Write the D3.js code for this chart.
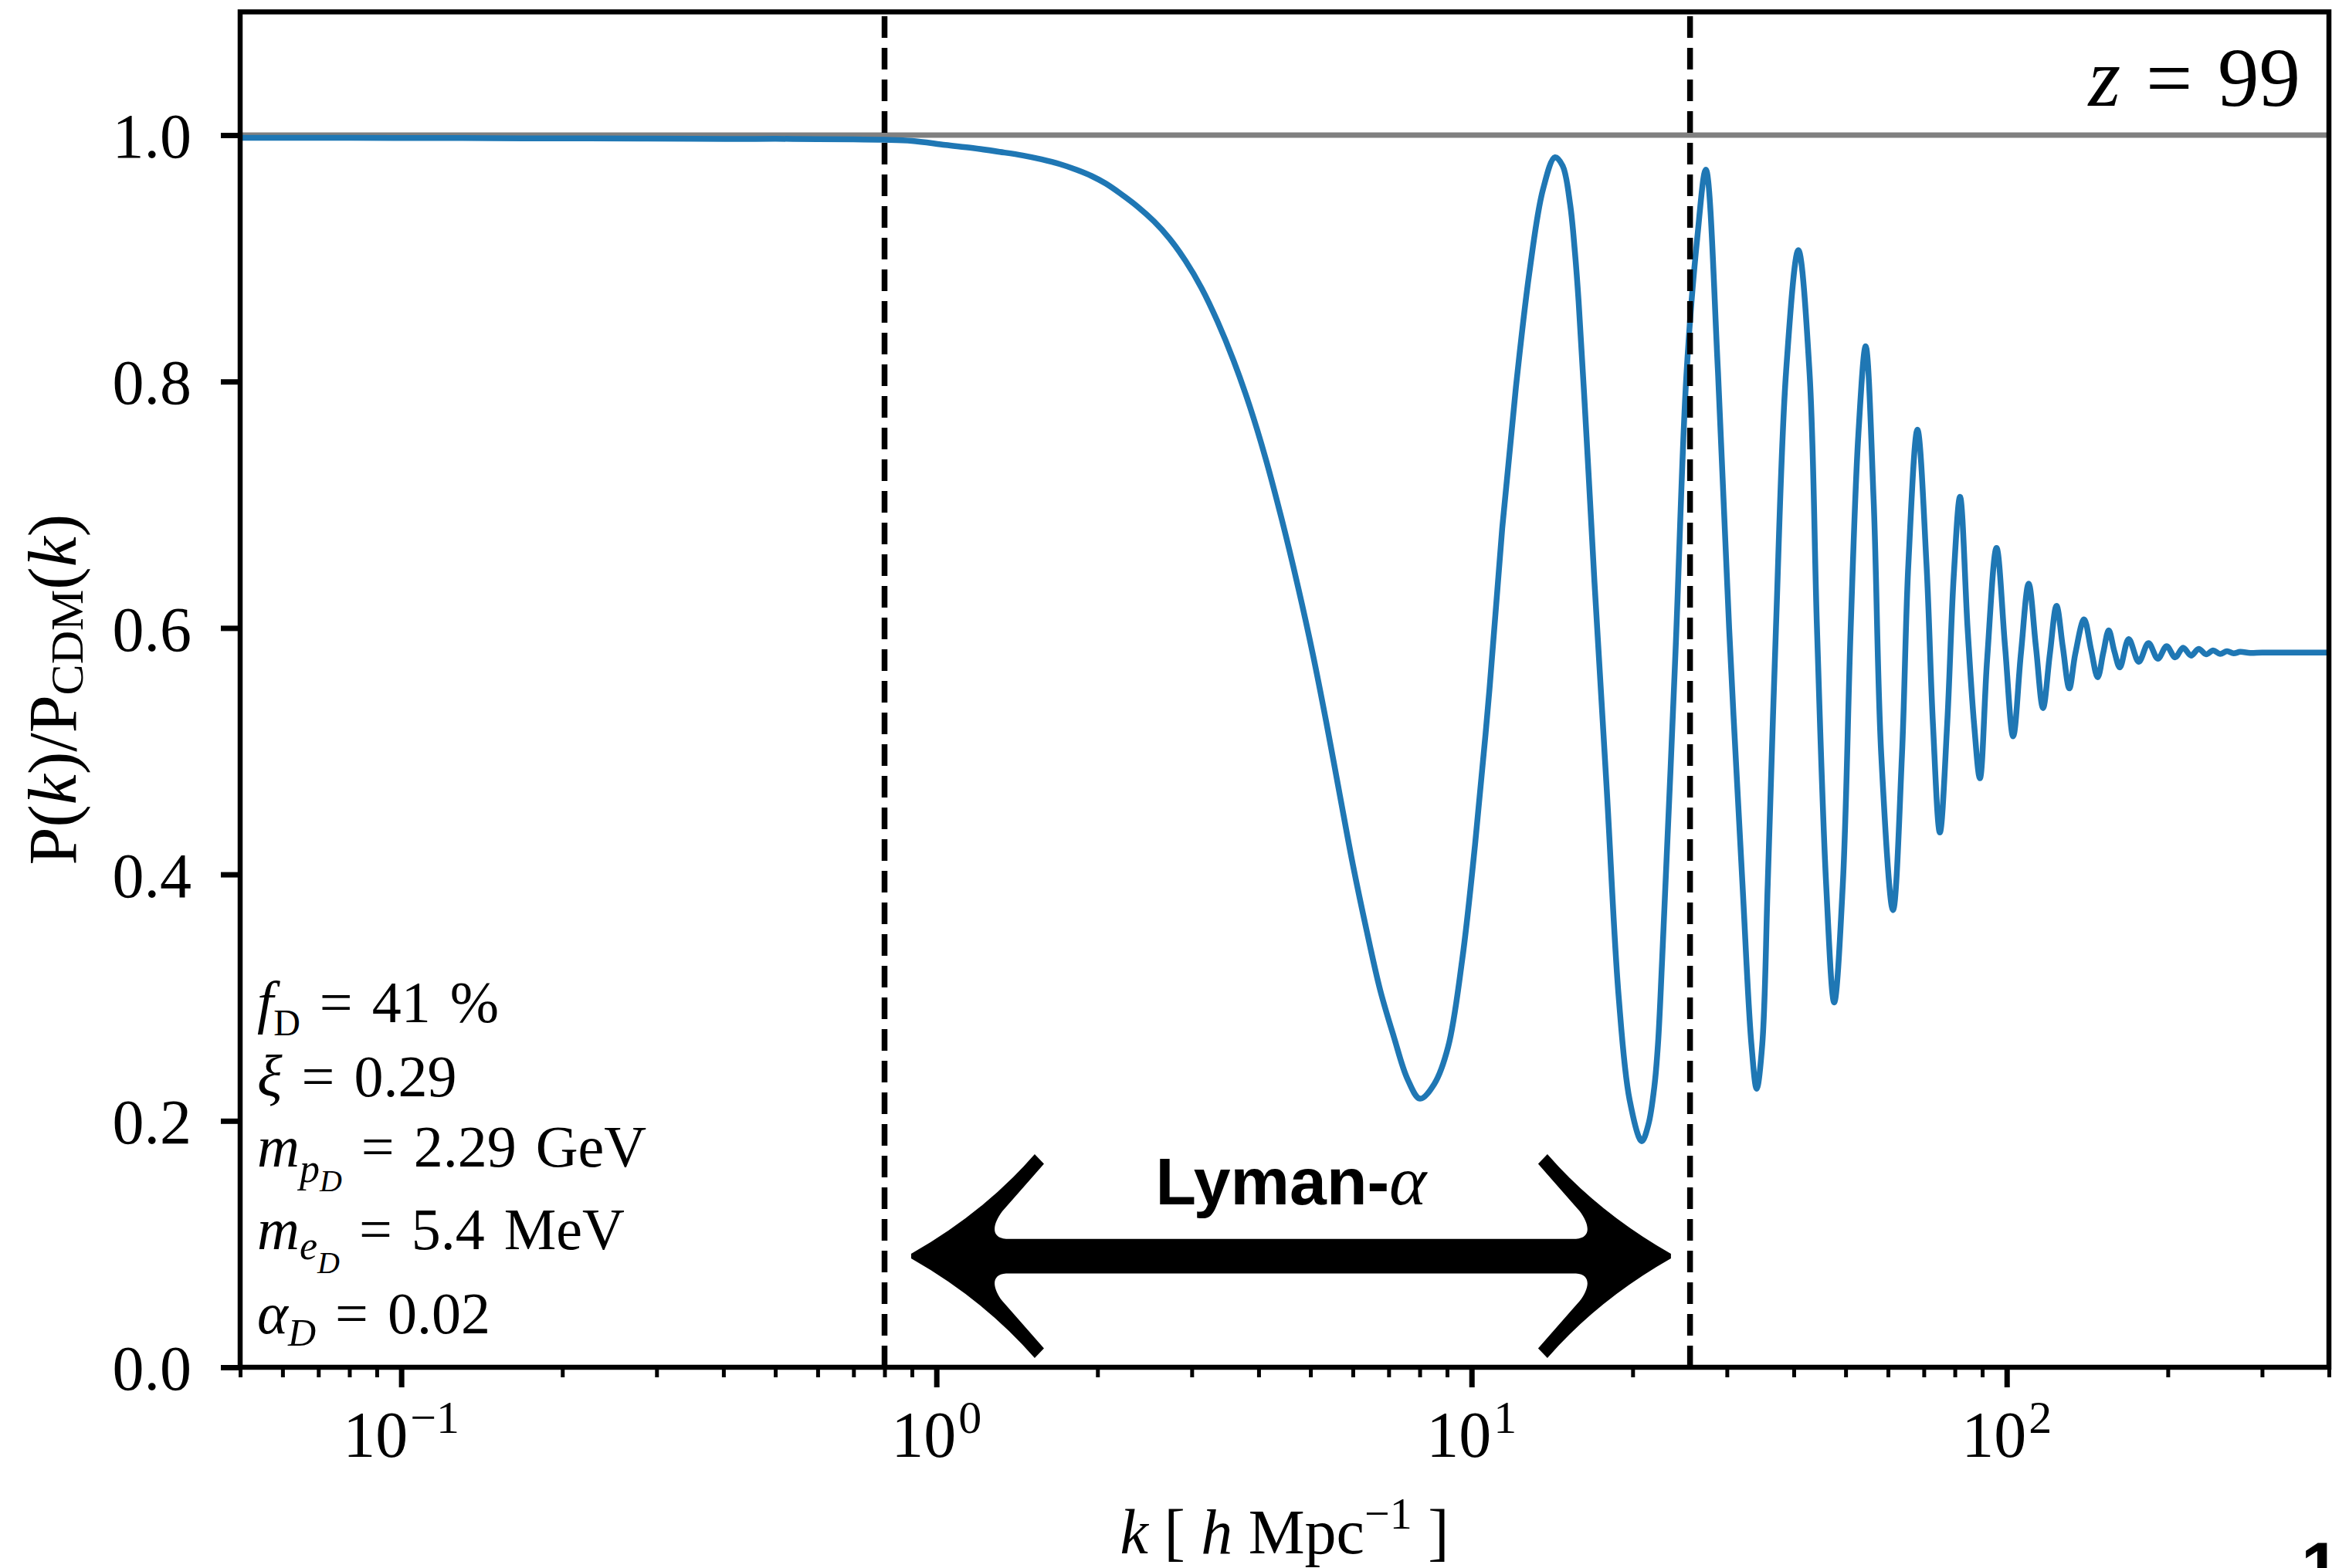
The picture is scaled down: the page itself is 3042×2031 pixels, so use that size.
<!DOCTYPE html>
<html>
<head>
<meta charset="utf-8">
<script src="https://cdn.jsdelivr.net/npm/d3@7"></script>
<style>
  html, body { margin: 0; padding: 0; background: #ffffff; }
  svg { display: block; }
</style>
</head>
<body>
<svg id="chart" width="3042" height="2031"></svg>
<script>
// Wavenumber k [h/Mpc] and transfer ratio P(k)/P_CDM(k) at z = 99
const kValues = [
  0.05, 0.07, 0.1, 0.13, 0.17, 0.22, 0.28, 0.35, 0.42, 0.5,
  0.6, 0.7, 0.8, 0.9, 1.04, 1.17, 1.314, 1.45, 1.572, 1.7,
  1.829, 1.95, 2.07, 2.2, 2.376, 2.55, 2.727, 2.92, 3.128, 3.35,
  3.592, 3.85, 4.12, 4.42, 4.73, 5.05, 5.35, 5.67, 6.0, 6.37,
  6.75, 7.16, 7.59, 8.01, 8.52, 9.04, 9.6, 10.15, 10.8, 11.41,
  12.1, 12.82, 13.59, 14.32, 14.8, 15.28, 15.6, 15.85, 16.4, 16.97,
  17.89, 18.83, 19.74, 20.8, 21.4, 21.96, 22.3, 22.7, 24.05, 25.2,
  26.4, 27.4, 28.87, 30.29, 32.08, 33.34, 34.1, 34.93, 35.76, 37.05,
  38.7, 40.8, 42.8, 44.2, 45.98, 47.6, 49.4, 51.1, 52.8, 54.5,
  56.4, 58.3, 61.3, 63.7, 65.5, 68.1, 70.8, 72.8, 75.0, 77.4,
  79.6, 81.8, 84.5, 86.9, 89.1, 91.9, 95.7, 99.3, 102.8, 106.3,
  109.9, 113.4, 116.9, 120.4, 123.9, 127.3, 130.9, 134.3, 139.5, 143.8,
  147.9, 151.5, 155.1, 158.9, 162.7, 169, 176.5, 184, 191.6, 199,
  206.4, 213.6, 221, 228.4, 235.9, 243, 250.5, 258, 265.5, 273,
  285, 300, 330, 400
];
const ratioValues = [
  0.9978, 0.9978, 0.9977, 0.9976, 0.9973, 0.9974, 0.9972, 0.9970, 0.9968, 0.9970,
  0.9967, 0.9966, 0.9962, 0.9953, 0.9920, 0.9895, 0.9864, 0.9835, 0.9803, 0.9765,
  0.9718, 0.9668, 0.9608, 0.9530, 0.9420, 0.9300, 0.9160, 0.8980, 0.8760, 0.8490,
  0.8170, 0.7800, 0.7380, 0.6880, 0.6350, 0.5790, 0.5240, 0.4650, 0.4080, 0.3540,
  0.3060, 0.2680, 0.2340, 0.2180, 0.2300, 0.2600, 0.3300, 0.4240, 0.5500, 0.6810,
  0.7950, 0.8880, 0.9555, 0.9820, 0.9750, 0.9440, 0.9050, 0.8650, 0.7550, 0.6370,
  0.4690, 0.3010, 0.2170, 0.1835, 0.1970, 0.2280, 0.2620, 0.3300, 0.5810, 0.8045,
  0.9160, 0.9720, 0.808, 0.600, 0.392, 0.262, 0.226, 0.262, 0.392, 0.600,
  0.808, 0.9066, 0.808, 0.600, 0.392, 0.296, 0.392, 0.600, 0.756, 0.8286,
  0.704, 0.496, 0.371, 0.496, 0.652, 0.761, 0.652, 0.522, 0.434, 0.522,
  0.6416, 0.7065, 0.600, 0.522, 0.478, 0.574, 0.665, 0.5845, 0.512, 0.5793,
  0.636, 0.5845, 0.535, 0.579, 0.618, 0.5845, 0.551, 0.579, 0.607, 0.582,
  0.560, 0.580, 0.598, 0.581, 0.568, 0.591, 0.5726, 0.5877, 0.5751, 0.5852,
  0.5761, 0.584, 0.5776, 0.583, 0.5786, 0.5818, 0.5790, 0.5812, 0.5794, 0.5806,
  0.5798, 0.5801, 0.5800, 0.5800
];

const yTickValues = [0.0, 0.2, 0.4, 0.6, 0.8, 1.0];
const xDecadeExponents = [-1, 0, 1, 2];
const lymanBounds = [0.8, 25.6];       // dashed vertical markers
const lymanArrowEnds = [0.897, 23.58];  // double arrow extent in k
const lymanArrowLevel = 0.0902;
const lymanLabelLevel = 0.132;
const cdmLevel = 1.0;
const redshift = "99";

const W = 3042, H = 2031;
const plot = { left: 311, right: 3016, top: 15.4, bottom: 1771 };
const SERIF = "'Liberation Serif', 'Times New Roman', Times, serif";
const SANS = "'Liberation Sans', Arial, Helvetica, sans-serif";
const BLUE = "#1f77b4";

const svg = d3.select("#chart");
svg.append("rect").attr("width", W).attr("height", H).attr("fill", "#fff");

const x = d3.scaleLog().domain([0.05, 400]).range([plot.left, plot.right]);
const y = d3.scaleLinear().domain([0, 1.1]).range([plot.bottom, plot.top]);

svg.append("defs").append("clipPath").attr("id", "plotClip")
  .append("rect")
  .attr("x", plot.left).attr("y", plot.top)
  .attr("width", plot.right - plot.left).attr("height", plot.bottom - plot.top);

const inner = svg.append("g").attr("clip-path", "url(#plotClip)");

// CDM reference level
inner.append("line")
  .attr("x1", plot.left).attr("x2", plot.right)
  .attr("y1", y(cdmLevel)).attr("y2", y(cdmLevel))
  .attr("stroke", "#808080").attr("stroke-width", 7);

// Ratio curve
const series = kValues.map((k, i) => [k, ratioValues[i]]);
const line = d3.line()
  .x(d => x(d[0]))
  .y(d => y(d[1]))
  .curve(d3.curveCatmullRom.alpha(0.5));
inner.append("path")
  .datum(series)
  .attr("d", line)
  .attr("fill", "none")
  .attr("stroke", BLUE)
  .attr("stroke-width", 7.5)
  .attr("stroke-linejoin", "round");

// Lyman-alpha range markers
inner.selectAll("line.bound")
  .data(lymanBounds)
  .join("line")
  .attr("class", "bound")
  .attr("x1", d => x(d)).attr("x2", d => x(d))
  .attr("y1", plot.bottom).attr("y2", plot.top)
  .attr("stroke", "#000").attr("stroke-width", 7.5)
  .attr("stroke-dasharray", "28,13");

// Double-headed arrow spanning the Lyman-alpha window
function doubleArrow(x0, x1, yc) {
  const h = 22.4;
  const p = [];
  p.push(`M${x0},${yc - 3}`);
  p.push(`Q${x0 + 94.5},${yc - 56.7} ${x0 + 160},${yc - 132}`);
  p.push(`L${x0 + 172},${yc - 119.5}`);
  p.push(`L${x0 + 118},${yc - 58}`);
  p.push(`C${x0 + 106},${yc - 42} ${x0 + 102},${yc - 24} ${x0 + 123},${yc - h}`);
  p.push(`L${x1 - 123},${yc - h}`);
  p.push(`C${x1 - 102},${yc - 24} ${x1 - 106},${yc - 42} ${x1 - 118},${yc - 58}`);
  p.push(`L${x1 - 172},${yc - 119.5}`);
  p.push(`L${x1 - 160},${yc - 132}`);
  p.push(`Q${x1 - 94.5},${yc - 56.7} ${x1},${yc - 3}`);
  p.push(`L${x1},${yc + 3}`);
  p.push(`Q${x1 - 94.5},${yc + 56.7} ${x1 - 160},${yc + 132}`);
  p.push(`L${x1 - 172},${yc + 119.5}`);
  p.push(`L${x1 - 118},${yc + 58}`);
  p.push(`C${x1 - 106},${yc + 42} ${x1 - 102},${yc + 24} ${x1 - 123},${yc + h}`);
  p.push(`L${x0 + 123},${yc + h}`);
  p.push(`C${x0 + 102},${yc + 24} ${x0 + 106},${yc + 42} ${x0 + 118},${yc + 58}`);
  p.push(`L${x0 + 172},${yc + 119.5}`);
  p.push(`L${x0 + 160},${yc + 132}`);
  p.push(`Q${x0 + 94.5},${yc + 56.7} ${x0},${yc + 3}`);
  p.push("Z");
  return p.join(" ");
}
svg.append("path")
  .attr("d", doubleArrow(x(lymanArrowEnds[0]), x(lymanArrowEnds[1]), y(lymanArrowLevel)))
  .attr("fill", "#000");

const lyLabel = svg.append("text")
  .attr("x", x(Math.sqrt(lymanArrowEnds[0] * lymanArrowEnds[1])))
  .attr("y", y(lymanLabelLevel))
  .attr("text-anchor", "middle")
  .attr("font-size", 86);
lyLabel.append("tspan").attr("font-family", SANS).attr("font-weight", "bold").text("Lyman-");
lyLabel.append("tspan").attr("font-family", SERIF).attr("font-style", "italic").attr("font-size", 92).text("α");

// Frame
svg.append("rect")
  .attr("x", plot.left).attr("y", plot.top)
  .attr("width", plot.right - plot.left).attr("height", plot.bottom - plot.top)
  .attr("fill", "none").attr("stroke", "#000").attr("stroke-width", 6.5);

// Y axis
const yAxisG = svg.append("g")
  .attr("transform", `translate(${plot.left},0)`)
  .call(d3.axisLeft(y).tickValues(yTickValues).tickSize(25).tickPadding(38)
    .tickFormat(d3.format(".1f")));
yAxisG.select(".domain").remove();
yAxisG.selectAll(".tick line").attr("stroke", "#000").attr("stroke-width", 7);
yAxisG.selectAll(".tick text")
  .attr("font-family", SERIF).attr("font-size", 82).attr("fill", "#000")
  .attr("dy", "0.35em");

// X axis: minor then major ticks
const majorVals = xDecadeExponents.map(e => Math.pow(10, e));
const minorVals = x.ticks().filter(v => Math.abs(Math.log10(v) - Math.round(Math.log10(v))) > 1e-6);
const xMinorG = svg.append("g")
  .attr("transform", `translate(0,${plot.bottom})`)
  .call(d3.axisBottom(x).tickValues(minorVals).tickSize(13).tickFormat(() => ""));
xMinorG.select(".domain").remove();
xMinorG.selectAll(".tick line").attr("stroke", "#000").attr("stroke-width", 5);

const xMajorG = svg.append("g")
  .attr("transform", `translate(0,${plot.bottom})`)
  .call(d3.axisBottom(x).tickValues(majorVals).tickSize(26).tickFormat(() => ""));
xMajorG.select(".domain").remove();
xMajorG.selectAll(".tick line").attr("stroke", "#000").attr("stroke-width", 7);

xDecadeExponents.forEach(e => {
  const t = svg.append("text")
    .attr("x", x(Math.pow(10, e)))
    .attr("y", plot.bottom + 116)
    .attr("text-anchor", "middle")
    .attr("font-family", SERIF).attr("font-size", 84);
  t.append("tspan").text("10");
  t.append("tspan").attr("font-size", 60).attr("dy", -31).attr("dx", 3)
    .text(e < 0 ? "\u2212" + Math.abs(e) : String(e));
});

// Axis titles
const xTitle = svg.append("text")
  .attr("x", (plot.left + plot.right) / 2)
  .attr("y", 2012)
  .attr("text-anchor", "middle")
  .attr("font-family", SERIF).attr("font-size", 82);
xTitle.append("tspan").attr("font-style", "italic").text("k");
xTitle.append("tspan").text(" [ ");
xTitle.append("tspan").attr("font-style", "italic").text("h");
xTitle.append("tspan").text(" Mpc");
xTitle.append("tspan").attr("font-size", 58).attr("dy", -32).text("\u22121");
xTitle.append("tspan").attr("dy", 32).text(" ]");

const yTitle = svg.append("text")
  .attr("transform", `translate(98,${(plot.top + plot.bottom) / 2}) rotate(-90)`)
  .attr("text-anchor", "middle")
  .attr("font-family", SERIF).attr("font-size", 88);
yTitle.append("tspan").text("P(");
yTitle.append("tspan").attr("font-style", "italic").text("k");
yTitle.append("tspan").text(")/P");
yTitle.append("tspan").attr("font-size", 60).attr("dy", 9).text("CDM");
yTitle.append("tspan").attr("dy", -9).text("(");
yTitle.append("tspan").attr("font-style", "italic").text("k");
yTitle.append("tspan").text(")");

// Redshift tag
const zTag = svg.append("text")
  .attr("x", 2979).attr("y", 137)
  .attr("text-anchor", "end")
  .attr("font-family", SERIF).attr("font-size", 107)
  .attr("word-spacing", 6);
zTag.append("tspan").attr("font-style", "italic").text("z");
zTag.append("tspan").text(" = " + redshift);

// Model parameters
const px = 333;
function paramLine(baseY) {
  return svg.append("text").attr("x", px).attr("y", baseY)
    .attr("font-family", SERIF).attr("font-size", 76).attr("fill", "#000")
    .attr("word-spacing", 6);
}
let t;
t = paramLine(1324);
t.append("tspan").attr("font-style", "italic").text("f");
t.append("tspan").attr("font-size", 48).attr("dy", 17).text("D");
t.append("tspan").attr("dy", -17).text(" = 41 %");

t = paramLine(1420);
t.append("tspan").attr("font-style", "italic").text("ξ");
t.append("tspan").text(" = 0.29");

t = paramLine(1511);
t.append("tspan").attr("font-style", "italic").text("m");
t.append("tspan").attr("font-style", "italic").attr("font-size", 52).attr("dy", 20).text("p");
t.append("tspan").attr("font-style", "italic").attr("font-size", 40).attr("dy", 12).text("D");
t.append("tspan").attr("dy", -32).text(" = 2.29 GeV");

t = paramLine(1618);
t.append("tspan").attr("font-style", "italic").text("m");
t.append("tspan").attr("font-style", "italic").attr("font-size", 52).attr("dy", 13).text("e");
t.append("tspan").attr("font-style", "italic").attr("font-size", 40).attr("dy", 18).text("D");
t.append("tspan").attr("dy", -31).text(" = 5.4 MeV");

t = paramLine(1727);
t.append("tspan").attr("font-style", "italic").text("α");
t.append("tspan").attr("font-style", "italic").attr("font-size", 50).attr("dy", 16).text("D");
t.append("tspan").attr("dy", -16).text(" = 0.02");

// Panel number at the lower right corner
svg.append("text")
  .attr("x", 2980).attr("y", 2061)
  .attr("font-family", SANS).attr("font-weight", "bold").attr("font-size", 90)
  .text("1");
</script>
</body>
</html>
